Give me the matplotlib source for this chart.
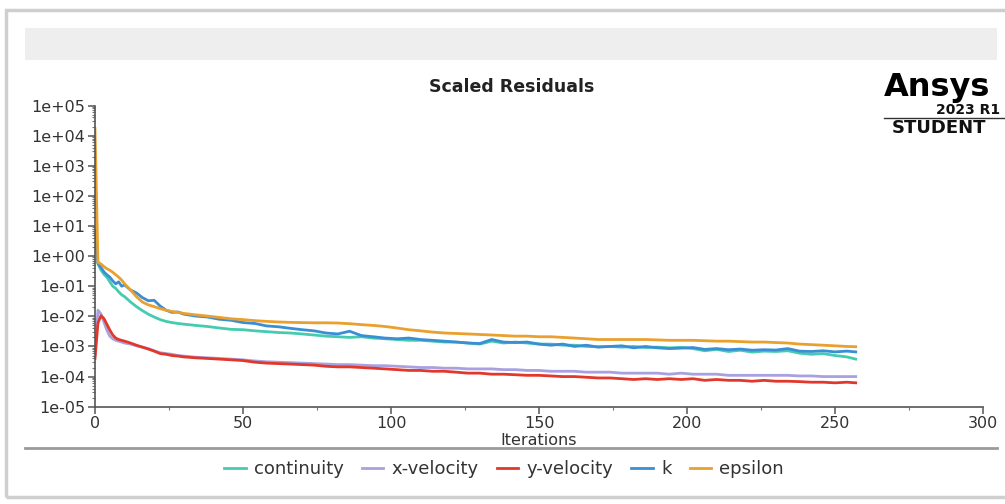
import matplotlib.pyplot as plt
import matplotlib.ticker as mticker
from matplotlib.patches import Rectangle
from matplotlib.lines import Line2D

iters = [0, 1, 2, 3, 4, 5, 6, 7, 8, 9, 10, 12, 14, 16, 18, 20, 22, 24, 26, 28, 30,
         34, 38, 42, 46, 50, 54, 58, 62, 66, 70, 74, 78, 82, 86, 90, 94, 98, 102,
         106, 110, 114, 118, 122, 126, 130, 134, 138, 142, 146, 150, 154, 158, 162,
         166, 170, 174, 178, 182, 186, 190, 194, 198, 202, 206, 210, 214, 218, 222,
         226, 230, 234, 238, 242, 246, 250, 254, 257]

continuity = [6.0, 0.55, 0.35, 0.25, 0.20, 0.14, 0.10, 0.085, 0.065, 0.052, 0.045,
              0.030, 0.021, 0.0155, 0.0118, 0.0095, 0.0078, 0.0068, 0.0062, 0.0058, 0.0055,
              0.0050, 0.0046, 0.0041, 0.0037, 0.0036, 0.0033, 0.0031, 0.0029, 0.0028,
              0.0026, 0.0024, 0.0022, 0.0021, 0.0020, 0.0021, 0.0019, 0.0018, 0.0017,
              0.0016, 0.0016, 0.0015, 0.0014, 0.0014, 0.0013, 0.0012, 0.0015, 0.0013,
              0.0014, 0.0013, 0.0012, 0.0012, 0.0011, 0.0011, 0.0010, 0.00098, 0.0010,
              0.00095, 0.0010, 0.00092, 0.00095, 0.0009, 0.00093, 0.00085, 0.00072,
              0.0008, 0.00068, 0.00075, 0.00065, 0.0007, 0.00068, 0.00072, 0.0006,
              0.00055, 0.00058, 0.0005, 0.00045, 0.00038]

x_velocity = [5e-4, 0.016, 0.012, 0.0065, 0.0035, 0.0022, 0.0018, 0.0016, 0.0015, 0.0014,
              0.0013, 0.0012, 0.00105, 0.00095, 0.00085, 0.00072, 0.00062, 0.00058,
              0.00055, 0.0005, 0.00048, 0.00044, 0.00042, 0.0004, 0.00038, 0.00036,
              0.00033, 0.00031, 0.0003, 0.00029, 0.00028, 0.00027, 0.00026, 0.00025,
              0.00025, 0.00024, 0.00023, 0.00023, 0.00022, 0.00021, 0.0002, 0.0002,
              0.00019, 0.00019, 0.00018, 0.00018, 0.00018, 0.00017, 0.00017, 0.00016,
              0.00016, 0.00015, 0.00015, 0.00015, 0.00014, 0.00014, 0.00014, 0.00013,
              0.00013, 0.00013, 0.00013, 0.00012, 0.00013, 0.00012, 0.00012, 0.00012,
              0.00011, 0.00011, 0.00011, 0.00011, 0.00011, 0.00011, 0.000105, 0.000105,
              0.0001, 0.0001, 0.0001, 0.0001]

y_velocity = [4e-4, 0.006, 0.0105, 0.0085, 0.0055, 0.0035, 0.0024, 0.0019, 0.0017, 0.0016,
              0.0015, 0.0013, 0.0011, 0.00095, 0.00082, 0.0007, 0.00058, 0.00055, 0.0005,
              0.00048, 0.00045, 0.00042, 0.0004, 0.00038, 0.00036, 0.00034, 0.0003,
              0.00028, 0.00027, 0.00026, 0.00025, 0.00024, 0.00022, 0.00021, 0.00021,
              0.0002, 0.00019, 0.00018, 0.00017, 0.00016, 0.00016, 0.00015, 0.00015,
              0.00014, 0.00013, 0.00013, 0.00012, 0.00012, 0.000115, 0.00011, 0.00011,
              0.000105, 0.0001, 0.0001, 0.000095, 0.00009, 0.00009, 0.000085, 0.00008,
              0.000085, 0.00008, 0.000085, 0.00008, 0.000085, 0.000075, 0.00008,
              0.000075, 0.000075, 0.00007, 0.000075, 0.00007, 0.00007, 0.000068,
              0.000065, 0.000065, 0.000062, 0.000065, 0.000062]

k = [7.0, 0.58, 0.42, 0.30, 0.24, 0.20, 0.15, 0.12, 0.14, 0.10, 0.11, 0.075, 0.060,
     0.042, 0.033, 0.034, 0.022, 0.016, 0.0135, 0.014, 0.0118, 0.0102, 0.0095, 0.0080,
     0.0074, 0.0062, 0.0058, 0.0048, 0.0045, 0.0040, 0.0036, 0.0033, 0.0028, 0.0026,
     0.0032, 0.0023, 0.0021, 0.0019, 0.0018, 0.0019, 0.0017, 0.0016, 0.0015, 0.0014,
     0.0013, 0.00125, 0.0017, 0.0014, 0.00135, 0.0014, 0.0012, 0.0011, 0.0012, 0.0010,
     0.0011, 0.00095, 0.0010, 0.00105, 0.0009, 0.001, 0.0009, 0.00085, 0.00088,
     0.00092, 0.0008, 0.00085, 0.00078, 0.00082, 0.00075, 0.00078, 0.00076, 0.00085,
     0.0007, 0.00068, 0.00072, 0.00066, 0.0007, 0.00066]

epsilon = [1.7e4, 0.62, 0.55, 0.45, 0.38, 0.34, 0.29, 0.24, 0.20, 0.16, 0.12, 0.075,
           0.045, 0.030, 0.024, 0.021, 0.018, 0.016, 0.0145, 0.0135, 0.0125, 0.0112,
           0.0102, 0.0092, 0.0083, 0.0078, 0.0072, 0.0068, 0.0065, 0.0063, 0.0062,
           0.0061, 0.0061, 0.0060, 0.0057, 0.0053, 0.0050, 0.0046, 0.0041, 0.0036,
           0.0033, 0.0030, 0.0028, 0.0027, 0.0026, 0.0025, 0.0024, 0.0023, 0.0022,
           0.0022, 0.0021, 0.0021, 0.0020, 0.0019, 0.0018, 0.0017, 0.0017, 0.0017,
           0.0017, 0.0017, 0.00165, 0.0016, 0.0016, 0.0016, 0.00155, 0.0015, 0.0015,
           0.00145, 0.0014, 0.0014, 0.00135, 0.0013, 0.0012, 0.00115, 0.0011, 0.00105,
           0.0010, 0.00098]

labels = ['continuity', 'x-velocity', 'y-velocity', 'k', 'epsilon']
colors = ['#45cbb0', '#a9a0e0', '#e2382c', '#3a8fd4', '#e9a02e']
series = [continuity, x_velocity, y_velocity, k, epsilon]

W, H = 1005, 504
fig = plt.figure(figsize=(W / 100, H / 100), dpi=100)
fig.patch.set_facecolor('white')

# screenshot frame decorations (pixel -> figure fraction)
def fx(px):
    return px / W

def fy(py):
    return 1 - py / H

fig.patches.append(Rectangle((fx(6), fy(497)), fx(1100) - fx(6), fy(10) - fy(497),
                             transform=fig.transFigure, facecolor='none',
                             edgecolor='#cfcfcf', lw=2.5, zorder=0))
fig.patches.append(Rectangle((fx(25), fy(60)), fx(997) - fx(25), fy(28) - fy(60),
                             transform=fig.transFigure, facecolor='#eeeeee',
                             edgecolor='none', zorder=0))
fig.lines.append(Line2D([fx(25), fx(997)], [fy(448), fy(448)], transform=fig.transFigure,
                        color='#9a9a9a', lw=2))

ax = fig.add_axes([fx(95), fy(406.7), fx(983) - fx(95), fy(105.5) - fy(406.7)])
for vals, lab, c in zip(series, labels, colors):
    ax.plot(iters, vals, color=c, lw=2.0, label=lab)

ax.set_yscale('log')
ax.set_ylim(1e-5, 1e5)
ax.set_xlim(0, 300)
ax.yaxis.set_major_locator(mticker.LogLocator(base=10, numticks=20))
ax.yaxis.set_minor_locator(mticker.LogLocator(base=10, subs=range(2, 10), numticks=20))
ax.yaxis.set_minor_formatter(mticker.NullFormatter())
ax.yaxis.set_major_formatter(mticker.FuncFormatter(lambda v, p: f'{v:.0e}'))
ax.xaxis.set_major_locator(mticker.MultipleLocator(50))
ax.xaxis.set_minor_locator(mticker.MultipleLocator(25))

for s in ['top', 'right']:
    ax.spines[s].set_visible(False)
for s in ['left', 'bottom']:
    ax.spines[s].set_color('#555555')
    ax.spines[s].set_linewidth(1.2)
ax.tick_params(which='major', length=5, width=1.1, color='#555555',
               labelsize=11.5, labelcolor='#333333', pad=2)
ax.tick_params(which='minor', length=2.5, width=0.8, color='#777777')

ax.set_xlabel('Iterations', fontsize=11.5, color='#333333', labelpad=1)
fig.text(fx(512), fy(87), 'Scaled Residuals', fontsize=12.5, fontweight='bold',
         color='#222222', ha='center', va='center')

fig.legend(handles=ax.get_lines(), labels=labels, loc='center',
           bbox_to_anchor=(fx(504), fy(469)), ncol=5, frameon=False,
           fontsize=13, handlelength=1.2, handletextpad=0.45, columnspacing=1.0,
           labelcolor='#333333')

# Ansys student logo, clipped at the right edge like the screenshot
fig.text(fx(884), fy(96), 'Ansys', fontsize=23, fontweight='bold', color='black',
         va='baseline', ha='left')
fig.text(fx(936), fy(109.5), '2023 R1', fontsize=10, fontweight='bold', color='#111111',
         va='center', ha='left')
fig.lines.append(Line2D([fx(884), fx(1005)], [fy(117.5), fy(117.5)], transform=fig.transFigure,
                        color='#333333', lw=1))
fig.text(fx(892), fy(128), 'STUDENT', fontsize=13, fontweight='bold', color='#111111',
         va='center', ha='left')

fig.savefig('out.png', dpi=100)
